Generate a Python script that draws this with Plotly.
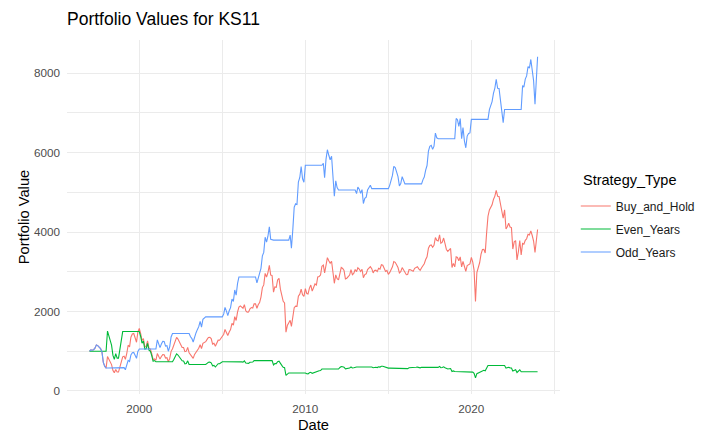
import pandas as pd
import plotly.graph_objects as go

# month-start observation dates (1997-01 .. 2023-12) plus the final trading day
dates = list(pd.date_range("1997-01-01", "2023-12-01", freq="MS")) + [pd.Timestamp("2023-12-28")]

buy_and_hold = [
    1000, 1035, 1026, 1038, 1076, 1159, 1141, 1113, 1064, 991, 720, 623,      # 1997
    576, 868, 798, 738, 663, 514, 456, 540, 476, 476, 619, 686,               # 1998
    860, 876, 796, 946, 1151, 1110, 1352, 1435, 1445, 1340, 1225, 1485,       # 1999
    1574, 1444, 1269, 1318, 1110, 1119, 1258, 1079, 1053, 939, 787, 805,      # 2000
    773, 942, 886, 801, 868, 916, 912, 828, 836, 733, 819, 997,               # 2001
    1061, 1151, 1254, 1349, 1306, 1220, 1138, 1096, 1092, 989, 1001, 1096,    # 2002
    961, 906, 880, 819, 919, 971, 1026, 1076, 1164, 1067, 1199, 1219,         # 2003
    1240, 1298, 1347, 1352, 1320, 1180, 1202, 1125, 1208, 1278, 1277, 1329,   # 2004
    1372, 1427, 1548, 1477, 1396, 1485, 1543, 1702, 1658, 1869, 1773, 1986,   # 2005
    2111, 2142, 2099, 2081, 2172, 2018, 1983, 1987, 2070, 2099, 2088, 2192,   # 2006
    2195, 2082, 2169, 2223, 2362, 2603, 2669, 2959, 2868, 2979, 3160, 2918,   # 2007
    2904, 2486, 2620, 2609, 2794, 2835, 2563, 2440, 2257, 2217, 1480, 1647,   # 2008
    1721, 1779, 1627, 1846, 2096, 2136, 2128, 2384, 2436, 2561, 2420, 2381,   # 2009
    2575, 2453, 2440, 2590, 2665, 2512, 2600, 2693, 2667, 2868, 2881, 2917,   # 2010
    3140, 3168, 2969, 3226, 3356, 3279, 3217, 3266, 2878, 2710, 2923, 2829,   # 2011
    2796, 2995, 3108, 3083, 3034, 2822, 2838, 2880, 2918, 3056, 2927, 2959,   # 2012
    3057, 3004, 3102, 3070, 3007, 3064, 2852, 2930, 2949, 3057, 3109, 3131,   # 2013
    3079, 2972, 3031, 3041, 3004, 3088, 3065, 3178, 3166, 3093, 3007, 3033,   # 2014
    2933, 2984, 3041, 3125, 3256, 3238, 3175, 3108, 2972, 3005, 3106, 3050,   # 2015
    3002, 2927, 2933, 3056, 3053, 3036, 3016, 3086, 3114, 3128, 3074, 3036,   # 2016
    3102, 3165, 3203, 3307, 3376, 3593, 3662, 3677, 3618, 3665, 3863, 3791,   # 2017
    3777, 3929, 3716, 3743, 3850, 3710, 3561, 3514, 3555, 3587, 3108, 3211,   # 2018
    3125, 3376, 3361, 3278, 3374, 3125, 3263, 3099, 3013, 3158, 3189, 3197,   # 2019
    3365, 3244, 3042, 2250, 2982, 3108, 3227, 3443, 3561, 3564, 3471, 3967,   # 2020
    4399, 4556, 4613, 4686, 4820, 4905, 5048, 4902, 4898, 4699, 4549, 4347,   # 2021
    4559, 4077, 4132, 4223, 4126, 4112, 3572, 3754, 3786, 3299, 3511, 3786,   # 2022
    3423, 3713, 3694, 3792, 3831, 3945, 3925, 4031, 3913, 3774, 3486, 3881,   # 2023
    4065,
]

even_years = [
    1000, 1000, 1000, 1000, 1000, 1000, 1000, 1000, 1000, 1000, 1000, 1000,   # 1997
    1000, 1508, 1386, 1282, 1152, 894, 793, 939, 827, 827, 1074, 1191,        # 1998
    1495, 1495, 1495, 1495, 1495, 1495, 1495, 1495, 1495, 1495, 1495, 1495,   # 1999
    1495, 1371, 1206, 1252, 1054, 1063, 1195, 1025, 1001, 891, 748, 765,      # 2000
    734, 734, 734, 734, 734, 734, 734, 734, 734, 734, 734, 734,               # 2001
    734, 797, 867, 933, 904, 844, 787, 758, 755, 684, 693, 758,               # 2002
    665, 665, 665, 665, 665, 665, 665, 665, 665, 665, 665, 665,               # 2003
    665, 696, 722, 725, 708, 633, 644, 603, 648, 686, 685, 713,               # 2004
    736, 736, 736, 736, 736, 736, 736, 736, 736, 736, 736, 736,               # 2005
    736, 747, 732, 725, 757, 703, 691, 693, 722, 732, 728, 764,               # 2006
    765, 765, 765, 765, 765, 765, 765, 765, 765, 765, 765, 765,               # 2007
    765, 655, 690, 687, 736, 747, 675, 643, 594, 584, 390, 434,               # 2008
    453, 453, 453, 453, 453, 453, 453, 453, 453, 453, 453, 453,               # 2009
    453, 431, 429, 456, 469, 442, 457, 474, 469, 504, 507, 513,               # 2010
    552, 552, 552, 552, 552, 552, 552, 552, 552, 552, 552, 552,               # 2011
    552, 591, 614, 609, 599, 557, 560, 569, 576, 603, 578, 584,               # 2012
    604, 604, 604, 604, 604, 604, 604, 604, 604, 604, 604, 604,               # 2013
    604, 583, 595, 596, 589, 606, 601, 623, 621, 607, 590, 595,               # 2014
    575, 575, 575, 575, 575, 575, 575, 575, 575, 575, 575, 575,               # 2015
    575, 561, 562, 585, 585, 581, 578, 591, 596, 599, 589, 581,               # 2016
    594, 594, 594, 594, 594, 594, 594, 594, 594, 594, 594, 594,               # 2017
    594, 618, 584, 589, 606, 583, 560, 553, 559, 564, 489, 505,               # 2018
    491, 491, 491, 491, 491, 491, 491, 491, 491, 491, 491, 491,               # 2019
    491, 473, 444, 328, 435, 453, 471, 502, 520, 520, 506, 579,               # 2020
    642, 642, 642, 642, 642, 642, 642, 642, 642, 642, 642, 642,               # 2021
    642, 574, 582, 595, 581, 579, 503, 529, 533, 465, 494, 533,               # 2022
    482, 482, 482, 482, 482, 482, 482, 482, 482, 482, 482, 482,               # 2023
    482,
]

odd_years = [
    1000, 1035, 1026, 1038, 1076, 1159, 1141, 1113, 1064, 991, 720, 623,      # 1997
    576, 576, 576, 576, 576, 576, 576, 576, 576, 576, 576, 576,               # 1998
    576, 586, 533, 633, 771, 743, 905, 960, 968, 897, 820, 994,               # 1999
    1054, 1054, 1054, 1054, 1054, 1054, 1054, 1054, 1054, 1054, 1054, 1054,   # 2000
    1054, 1284, 1208, 1092, 1183, 1248, 1244, 1129, 1140, 1000, 1117, 1359,   # 2001
    1446, 1446, 1446, 1446, 1446, 1446, 1446, 1446, 1446, 1446, 1446, 1446,   # 2002
    1446, 1363, 1324, 1232, 1382, 1460, 1543, 1619, 1750, 1605, 1803, 1833,   # 2003
    1865, 1865, 1865, 1865, 1865, 1865, 1865, 1865, 1865, 1865, 1865, 1865,   # 2004
    1865, 1940, 2104, 2009, 1898, 2019, 2098, 2315, 2254, 2541, 2410, 2700,   # 2005
    2870, 2870, 2870, 2870, 2870, 2870, 2870, 2870, 2870, 2870, 2870, 2870,   # 2006
    2870, 2722, 2836, 2906, 3088, 3402, 3488, 3869, 3749, 3895, 4131, 3815,   # 2007
    3797, 3797, 3797, 3797, 3797, 3797, 3797, 3797, 3797, 3797, 3797, 3797,   # 2008
    3797, 3925, 3591, 4074, 4625, 4712, 4695, 5260, 5374, 5651, 5341, 5253,   # 2009
    5682, 5682, 5682, 5682, 5682, 5682, 5682, 5682, 5682, 5682, 5682, 5682,   # 2010
    5682, 5731, 5371, 5836, 6072, 5933, 5820, 5908, 5208, 4903, 5288, 5119,   # 2011
    5058, 5058, 5058, 5058, 5058, 5058, 5058, 5058, 5058, 5058, 5058, 5058,   # 2012
    5058, 4970, 5132, 5079, 4975, 5069, 4719, 4848, 4879, 5058, 5145, 5180,   # 2013
    5094, 5094, 5094, 5094, 5094, 5094, 5094, 5094, 5094, 5094, 5094, 5094,   # 2014
    5094, 5182, 5280, 5426, 5655, 5623, 5514, 5397, 5161, 5219, 5394, 5296,   # 2015
    5214, 5214, 5214, 5214, 5214, 5214, 5214, 5214, 5214, 5214, 5214, 5214,   # 2016
    5214, 5320, 5384, 5559, 5675, 6040, 6156, 6182, 6081, 6161, 6493, 6372,   # 2017
    6349, 6349, 6349, 6349, 6349, 6349, 6349, 6349, 6349, 6349, 6349, 6349,   # 2018
    6349, 6859, 6828, 6660, 6856, 6349, 6629, 6296, 6122, 6417, 6480, 6495,   # 2019
    6837, 6837, 6837, 6837, 6837, 6837, 6837, 6837, 6837, 6837, 6837, 6837,   # 2020
    6837, 7082, 7170, 7285, 7492, 7625, 7846, 7620, 7613, 7304, 7070, 6756,   # 2021
    7087, 7087, 7087, 7087, 7087, 7087, 7087, 7087, 7087, 7087, 7087, 7087,   # 2022
    7087, 7686, 7648, 7851, 7930, 8168, 8127, 8345, 8101, 7813, 7217, 8035,   # 2023
    8415,
]

series_names = ["Buy_and_Hold", "Even_Years", "Odd_Years"]
series_values = [buy_and_hold, even_years, odd_years]
series_colors = ["#F8766D", "#00BA38", "#619CFF"]

FONT = "Liberation Sans, Arial, sans-serif"

fig = go.Figure()
for name, vals, col in zip(series_names, series_values, series_colors):
    fig.add_trace(go.Scatter(x=dates, y=vals, mode="lines", name=name,
                             legendgroup=name,
                             line=dict(color=col, width=1.1)))

fig.update_layout(
    width=701, height=440,
    margin=dict(l=67, r=141, t=40, b=46, autoexpand=False),
    paper_bgcolor="white", plot_bgcolor="white",
    font=dict(family=FONT, color="#4D4D4D"),
    title=dict(text="Portfolio Values for KS11", x=0, xref="paper", xanchor="left",
               y=1 - 19 / 440, yref="container", yanchor="middle",
               font=dict(size=17.5, color="black", family=FONT)),
    legend=dict(font=dict(size=12, color="#1A1A1A"),
                x=1.032, xanchor="left", y=(394 - 229) / 354, yanchor="middle",
                bgcolor="rgba(0,0,0,0)", tracegroupgap=4),
    showlegend=True,
    annotations=[dict(text="Strategy_Type", xref="paper", yref="paper",
                      x=(581 - 67) / 493, xanchor="left",
                      y=(394 - 180) / 354, yanchor="middle", showarrow=False,
                      font=dict(size=14.5, color="black", family=FONT))],
)

fig.update_xaxes(
    type="date",
    range=["1995-08-25", "2025-05-04"],
    tickvals=["2000-01-01", "2010-01-01", "2020-01-01"],
    ticktext=["2000", "2010", "2020"],
    showgrid=True, gridcolor="#EBEBEB", gridwidth=1.1,
    minor=dict(tickvals=["2005-01-01", "2015-01-01", "2025-01-01"],
               showgrid=True, gridcolor="#EBEBEB", gridwidth=0.6),
    zeroline=False, showline=False, ticks="",
    automargin=False,
    ticklabelstandoff=6,
    tickfont=dict(size=11.7, color="#4D4D4D"),
    title=dict(text="Date", font=dict(size=14.7, color="black"), standoff=6),
)
fig.update_yaxes(
    range=[-77, 8835],
    tickvals=[0, 2000, 4000, 6000, 8000],
    tickformat="d",
    showgrid=True, gridcolor="#EBEBEB", gridwidth=1.1,
    minor=dict(tickvals=[1000, 3000, 5000, 7000],
               showgrid=True, gridcolor="#EBEBEB", gridwidth=0.6),
    zeroline=False, showline=False, ticks="",
    automargin=False,
    ticklabelstandoff=6,
    tickfont=dict(size=11.7, color="#4D4D4D"),
    title=dict(text="Portfolio Value", font=dict(size=14.7, color="black"), standoff=0),
)

fig.write_html("out.html")
